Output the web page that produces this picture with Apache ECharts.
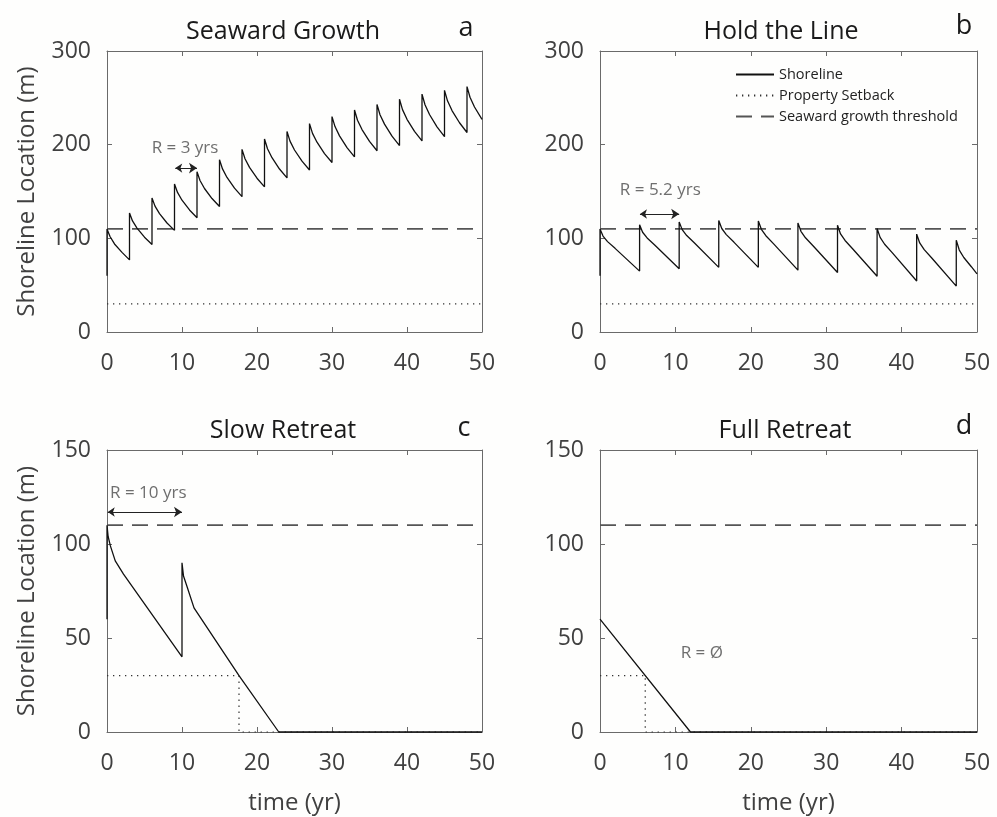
<!DOCTYPE html>
<html>
<head>
<meta charset="utf-8">
<script src="https://cdn.jsdelivr.net/npm/echarts@6/dist/echarts.min.js"></script>
<style>
  html, body { margin: 0; padding: 0; background: #fefefd; }
  #chart { width: 997px; height: 817px; }
</style>
</head>
<body>
<div id="chart"></div>
<script>
// Shoreline position (m) over time (yr) under four management scenarios.
// Each nourishment shows as a vertical jump: trough and peak share the same time.

const seawardGrowth = [
  [0, 60], [0, 110], [0.4, 102], [1, 94], [2, 85], [3, 77],
  [3, 127], [3.4, 118.6], [4, 110.9], [5, 101.2], [6, 93.5],
  [6, 143], [6.4, 134.4], [7, 126.4], [8, 116.4], [9, 108.5],
  [9, 158], [9.4, 149], [10, 140.7], [11, 130.3], [12, 122],
  [12, 171], [12.4, 161.8], [13, 153.2], [14, 142.5], [15, 134],
  [15, 184], [15.4, 174.1], [16, 165], [17, 153.6], [18, 144.5],
  [18, 195], [18.4, 185], [19, 175.8], [20, 164.2], [21, 155],
  [21, 206], [21.4, 195.6], [22, 186.1], [23, 174], [24, 164.5],
  [24, 214], [24.4, 203.8], [25, 194.3], [26, 182.4], [27, 173],
  [27, 222.5], [27.4, 212.1], [28, 202.6], [29, 190.5], [30, 181],
  [30, 230], [30.4, 219.3], [31, 209.4], [32, 196.9], [33, 187],
  [33, 237], [33.4, 226.1], [34, 216.1], [35, 203.5], [36, 193.5],
  [36, 243], [36.4, 232], [37, 221.9], [38, 209.1], [39, 199],
  [39, 248.5], [39.4, 237.4], [40, 227.1], [41, 214.2], [42, 204],
  [42, 254], [42.4, 242.6], [43, 232.2], [44, 219], [45, 208.5],
  [45, 258], [45.4, 246.8], [46, 236.4], [47, 223.4], [48, 213],
  [48, 262], [48.4, 250.6], [49, 240.2], [50, 227]
];

const holdTheLine = [
  [0, 60], [0, 110], [0.4, 102.4], [1, 96.5], [2, 89.3], [5.25, 65],
  [5.25, 114.5], [5.65, 106.5], [6.25, 100.4], [7.25, 92.9], [10.5, 67.5],
  [10.5, 117.5], [10.9, 109.3], [11.5, 103], [12.5, 95.2], [15.75, 69],
  [15.75, 119], [16.15, 110.5], [16.75, 104], [17.75, 96], [21, 69],
  [21, 118.5], [21.4, 109.6], [22, 102.8], [23, 94.4], [26.25, 66],
  [26.25, 116.5], [26.65, 107.5], [27.25, 100.6], [28.25, 92.1], [31.5, 63.5],
  [31.5, 114], [31.9, 104.7], [32.5, 97.7], [33.5, 88.9], [36.75, 59.5],
  [36.75, 110.5], [37.15, 101], [37.75, 93.7], [38.75, 84.7], [42, 54.5],
  [42, 104.5], [42.4, 95.1], [43, 87.9], [44, 79], [47.25, 49],
  [47.25, 98], [47.65, 87.5], [48.25, 79.5], [49.25, 69.7], [50, 62]
];

const slowRetreat = [
  [0, 60], [0, 110], [0.15, 104], [0.45, 99], [1.1, 91], [2.2, 84], [10, 40],
  [10, 90], [10.2, 83], [10.7, 77], [11.6, 66], [17.6, 30], [22.9, 0], [50, 0]
];

const fullRetreat = [[0, 60], [12, 0], [50, 0]];

// Property setback lines (drop to zero once the shoreline passes them)
const setbackA = [[0, 30], [50, 30]];
const setbackB = [[0, 30], [50, 30]];
const setbackC = [[0, 30], [17.6, 30], [17.6, 0], [50, 0]];
const setbackD = [[0, 30], [6, 30], [6, 0], [50, 0]];

// Seaward growth threshold
const threshold = [[0, 110], [50, 110]];

// Renourishment interval notes: [time, position] and arrow spans
const notes = [
  { text: 'R = 3 yrs',   at: [10.4, 196] },
  { text: 'R = 5.2 yrs', at: [8.0, 151] },
  { text: 'R = 10 yrs',  at: [5.5, 127] },
  { text: 'R = Ø',       at: [13.5, 42] }
];
const arrows = [
  [[9.1, 175], [12, 175]],
  [[5.3, 126], [10.5, 126]],
  [[0.1, 117], [10, 117]],
  null
];

const panelTitles = ['Seaward Growth', 'Hold the Line', 'Slow Retreat', 'Full Retreat'];
const panelLetters = ['a', 'b', 'c', 'd'];
const yMaxes = [300, 300, 150, 150];
const yIntervals = [100, 100, 50, 50];
const xMax = 50, xInterval = 10;

const FONT = '"Open Sans", "Noto Sans", sans-serif';
const AXIS_COLOR = '#6a6a6a';
const LABEL_COLOR = '#404040';

const grids = [
  { left: 107, top: 51, width: 375, height: 281 },
  { left: 600, top: 51, width: 377, height: 281 },
  { left: 107, top: 450, width: 375, height: 282 },
  { left: 600, top: 450, width: 377, height: 282 }
];

const shorelines = [seawardGrowth, holdTheLine, slowRetreat, fullRetreat];
const setbacks = [setbackA, setbackB, setbackC, setbackD];

const xAxes = [], yAxes = [], series = [];

grids.forEach((g, i) => {
  const bottomRow = i >= 2;
  const leftCol = i % 2 === 0;
  const tickStyle = { show: true, inside: true, length: 5, lineStyle: { color: AXIS_COLOR, width: 1 } };
  const lineStyle = { show: true, onZero: false, lineStyle: { color: AXIS_COLOR, width: 1 } };

  xAxes.push({
    type: 'value', gridIndex: i, position: 'bottom', min: 0, max: xMax, interval: xInterval,
    axisLine: lineStyle, axisTick: tickStyle, splitLine: { show: false },
    axisLabel: { color: LABEL_COLOR, fontSize: 23, fontFamily: FONT, margin: 20 },
    name: bottomRow ? 'time (yr)' : '', nameLocation: 'middle', nameGap: 59,
    nameTextStyle: { color: LABEL_COLOR, fontSize: 24, fontFamily: FONT }
  });
  xAxes.push({
    type: 'value', gridIndex: i, position: 'top', min: 0, max: xMax, interval: xInterval,
    axisLine: lineStyle, axisTick: tickStyle, splitLine: { show: false },
    axisLabel: { show: false }
  });
  yAxes.push({
    type: 'value', gridIndex: i, position: 'left', min: 0, max: yMaxes[i], interval: yIntervals[i],
    axisLine: lineStyle, axisTick: tickStyle, splitLine: { show: false },
    axisLabel: { color: LABEL_COLOR, fontSize: 23, fontFamily: FONT, margin: 16 },
    name: leftCol ? 'Shoreline Location (m)' : '', nameLocation: 'middle', nameGap: 68, nameRotate: 90,
    nameTextStyle: { color: LABEL_COLOR, fontSize: 24, fontFamily: FONT }
  });
  yAxes.push({
    type: 'value', gridIndex: i, position: 'right', min: 0, max: yMaxes[i], interval: yIntervals[i],
    axisLine: lineStyle, axisTick: tickStyle, splitLine: { show: false },
    axisLabel: { show: false }
  });

  const xi = i * 2, yi = i * 2;

  series.push({
    name: 'Shoreline', type: 'line', xAxisIndex: xi, yAxisIndex: yi,
    data: shorelines[i], symbol: 'none', clip: false, z: 5,
    lineStyle: { color: '#111', width: 1.3 }, itemStyle: { color: '#111' }
  });
  series.push({
    name: 'Property Setback', type: 'line', xAxisIndex: xi, yAxisIndex: yi,
    data: setbacks[i], symbol: 'none', clip: false, z: 3,
    lineStyle: { color: '#333', width: 1.2, type: [1.3, 4.7] }, itemStyle: { color: '#333' }
  });
  series.push({
    name: 'Seaward growth threshold', type: 'line', xAxisIndex: xi, yAxisIndex: yi,
    data: threshold, symbol: 'none', clip: false, z: 4,
    lineStyle: { color: '#555', width: 1.7, type: [16, 9] }, itemStyle: { color: '#555' }
  });

  series.push({
    type: 'scatter', xAxisIndex: xi, yAxisIndex: yi, silent: true,
    symbolSize: 1, itemStyle: { color: 'rgba(0,0,0,0)' },
    labelLayout: { hideOverlap: false },
    data: [{ value: notes[i].at, name: notes[i].text }],
    label: {
      show: true, position: 'inside', formatter: '{b}',
      color: '#4a4a4a', fontSize: 17, fontFamily: FONT
    }
  });

  if (arrows[i]) {
    series.push({
      type: 'lines', coordinateSystem: 'cartesian2d', xAxisIndex: xi, yAxisIndex: yi, silent: true,
      symbol: ['arrow', 'arrow'], symbolSize: [7, 8],
      lineStyle: { color: '#222', width: 1.2, opacity: 1 },
      data: [{ coords: arrows[i] }]
    });
  }
});

const titleY = [32, 32, 431, 431];
const titleX = [283, 781, 283, 785];
const letterX = [466, 964, 464, 964];
const letterY = [28, 26, 428, 426];

const graphics = [];
panelTitles.forEach((t, i) => {
  graphics.push({
    type: 'text', x: titleX[i], y: titleY[i],
    style: { text: t, font: '25px ' + FONT, fill: '#1a1a1a', align: 'center', verticalAlign: 'middle' }
  });
  graphics.push({
    type: 'text', x: letterX[i], y: letterY[i],
    style: { text: panelLetters[i], font: '27px ' + FONT, fill: '#1a1a1a', align: 'center', verticalAlign: 'middle' }
  });
});

const chart = echarts.init(document.getElementById('chart'), null, { renderer: 'canvas' });
chart.setOption({
  backgroundColor: '#fefefd',
  animation: false,
  grid: grids,
  xAxis: xAxes,
  yAxis: yAxes,
  series: series,
  graphic: graphics,
  legend: {
    data: ['Shoreline', 'Property Setback', 'Seaward growth threshold'],
    orient: 'vertical', left: 735, top: 67, padding: 0,
    itemWidth: 38, itemHeight: 14, itemGap: 6,
    itemStyle: { opacity: 0 },
    textStyle: { color: '#222', fontSize: 14.5, fontFamily: FONT },
    selectedMode: false
  }
});
</script>
</body>
</html>
